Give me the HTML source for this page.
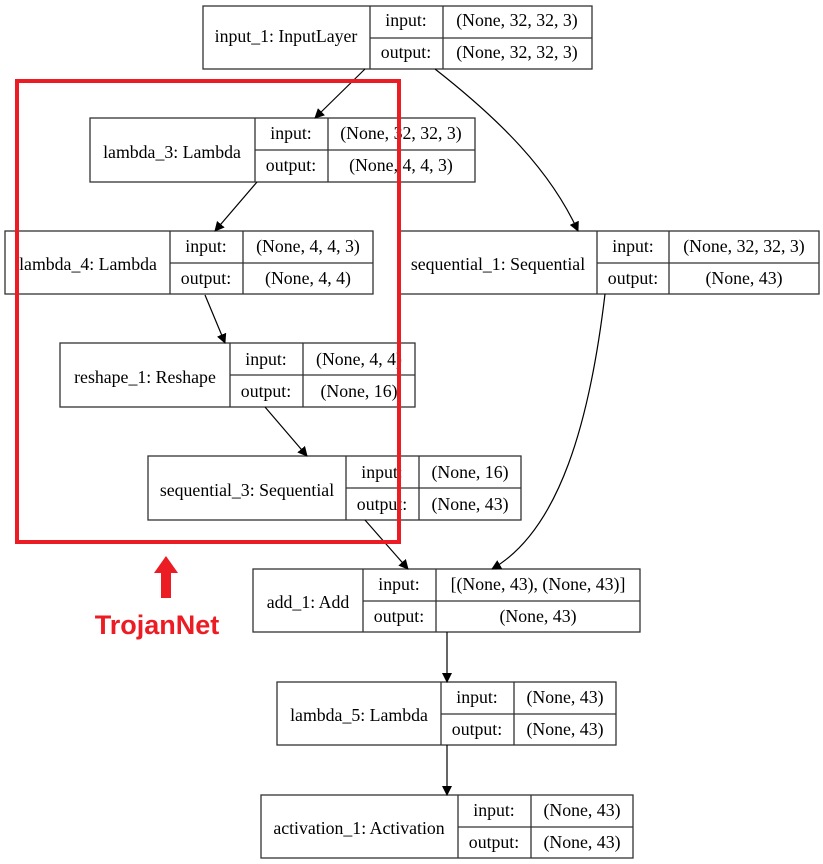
<!DOCTYPE html>
<html><head><meta charset="utf-8"><style>
body{margin:0;background:#fff;}
svg{display:block;}
text{font-family:"Liberation Serif",serif;font-size:17.8px;fill:#000;}
.b{fill:#fff;stroke:#333;stroke-width:1.3;}
.l{stroke:#333;stroke-width:1.3;}
.e{stroke:#000;stroke-width:1.2;fill:none;}
</style></head><body>
<svg width="823" height="864" viewBox="0 0 823 864">
<defs><marker id="a" markerWidth="10" markerHeight="10" refX="9" refY="5" orient="auto" markerUnits="userSpaceOnUse"><path d="M0,0 L10,5 L0,10z" fill="#000"/></marker></defs>

<g id="nodes">
<rect class="b" x="203" y="6" width="389" height="63"/><line class="l" x1="370" y1="6" x2="370" y2="69"/><line class="l" x1="443" y1="6" x2="443" y2="69"/><line class="l" x1="370" y1="38" x2="592" y2="38"/>
<text x="286" y="42" text-anchor="middle">input_1: InputLayer</text><text x="406" y="26" text-anchor="middle">input:</text><text x="406" y="58" text-anchor="middle">output:</text><text x="517" y="26" text-anchor="middle">(None, 32, 32, 3)</text><text x="517" y="58" text-anchor="middle">(None, 32, 32, 3)</text>

<rect class="b" x="90" y="118" width="385" height="64"/><line class="l" x1="255" y1="118" x2="255" y2="182"/><line class="l" x1="328" y1="118" x2="328" y2="182"/><line class="l" x1="255" y1="150" x2="475" y2="150"/>
<text x="172" y="158" text-anchor="middle">lambda_3: Lambda</text><text x="291" y="139" text-anchor="middle">input:</text><text x="291" y="171" text-anchor="middle">output:</text><text x="401" y="139" text-anchor="middle">(None, 32, 32, 3)</text><text x="401" y="171" text-anchor="middle">(None, 4, 4, 3)</text>

<rect class="b" x="5" y="231" width="368" height="63"/><line class="l" x1="170" y1="231" x2="170" y2="294"/><line class="l" x1="243" y1="231" x2="243" y2="294"/><line class="l" x1="170" y1="263" x2="373" y2="263"/>
<text x="88" y="270" text-anchor="middle">lambda_4: Lambda</text><text x="206" y="252" text-anchor="middle">input:</text><text x="206" y="284" text-anchor="middle">output:</text><text x="308" y="252" text-anchor="middle">(None, 4, 4, 3)</text><text x="308" y="284" text-anchor="middle">(None, 4, 4)</text>

<rect class="b" x="400" y="231" width="419" height="63"/><line class="l" x1="597" y1="231" x2="597" y2="294"/><line class="l" x1="669" y1="231" x2="669" y2="294"/><line class="l" x1="597" y1="263" x2="819" y2="263"/>
<text x="498" y="270" text-anchor="middle">sequential_1: Sequential</text><text x="633" y="252" text-anchor="middle">input:</text><text x="633" y="284" text-anchor="middle">output:</text><text x="744" y="252" text-anchor="middle">(None, 32, 32, 3)</text><text x="744" y="284" text-anchor="middle">(None, 43)</text>

<rect class="b" x="60" y="343" width="355" height="64"/><line class="l" x1="230" y1="343" x2="230" y2="407"/><line class="l" x1="303" y1="343" x2="303" y2="407"/><line class="l" x1="230" y1="375" x2="415" y2="375"/>
<text x="145" y="383" text-anchor="middle">reshape_1: Reshape</text><text x="266" y="365" text-anchor="middle">input:</text><text x="266" y="397" text-anchor="middle">output:</text><text x="359" y="365" text-anchor="middle">(None, 4, 4)</text><text x="359" y="397" text-anchor="middle">(None, 16)</text>

<rect class="b" x="148" y="456" width="373" height="64"/><line class="l" x1="346" y1="456" x2="346" y2="520"/><line class="l" x1="419" y1="456" x2="419" y2="520"/><line class="l" x1="346" y1="488" x2="521" y2="488"/>
<text x="247" y="496" text-anchor="middle">sequential_3: Sequential</text><text x="382" y="478" text-anchor="middle">input:</text><text x="382" y="510" text-anchor="middle">output:</text><text x="470" y="478" text-anchor="middle">(None, 16)</text><text x="470" y="510" text-anchor="middle">(None, 43)</text>

<rect class="b" x="253" y="569" width="387" height="63"/><line class="l" x1="363" y1="569" x2="363" y2="632"/><line class="l" x1="436" y1="569" x2="436" y2="632"/><line class="l" x1="363" y1="601" x2="640" y2="601"/>
<text x="308" y="608" text-anchor="middle">add_1: Add</text><text x="399" y="590" text-anchor="middle">input:</text><text x="399" y="622" text-anchor="middle">output:</text><text x="538" y="590" text-anchor="middle">[(None, 43), (None, 43)]</text><text x="538" y="622" text-anchor="middle">(None, 43)</text>

<rect class="b" x="277" y="682" width="339" height="63"/><line class="l" x1="441" y1="682" x2="441" y2="745"/><line class="l" x1="514" y1="682" x2="514" y2="745"/><line class="l" x1="441" y1="714" x2="616" y2="714"/>
<text x="359" y="721" text-anchor="middle">lambda_5: Lambda</text><text x="477" y="703" text-anchor="middle">input:</text><text x="477" y="735" text-anchor="middle">output:</text><text x="565" y="703" text-anchor="middle">(None, 43)</text><text x="565" y="735" text-anchor="middle">(None, 43)</text>

<rect class="b" x="261" y="795" width="372" height="63"/><line class="l" x1="458" y1="795" x2="458" y2="858"/><line class="l" x1="531" y1="795" x2="531" y2="858"/><line class="l" x1="458" y1="827" x2="633" y2="827"/>
<text x="359" y="834" text-anchor="middle">activation_1: Activation</text><text x="494" y="816" text-anchor="middle">input:</text><text x="494" y="848" text-anchor="middle">output:</text><text x="582" y="816" text-anchor="middle">(None, 43)</text><text x="582" y="848" text-anchor="middle">(None, 43)</text>
</g>

<path class="e" marker-end="url(#a)" d="M365,69 L315,118"/>
<path class="e" marker-end="url(#a)" d="M435,69 C500,120 550,170 578,231"/>
<path class="e" marker-end="url(#a)" d="M257,182 L215,231"/>
<path class="e" marker-end="url(#a)" d="M205,295 L225,343"/>
<path class="e" marker-end="url(#a)" d="M265,407 L307,456"/>
<path class="e" marker-end="url(#a)" d="M365,520 L408,569"/>
<path class="e" marker-end="url(#a)" d="M605,294 C590,420 560,530 492,569"/>
<path class="e" marker-end="url(#a)" d="M447,632 L447,682"/>
<path class="e" marker-end="url(#a)" d="M447,745 L447,795"/>

<rect x="17" y="81" width="382" height="461" fill="none" stroke="#ec1c24" stroke-width="4"/>
<path d="M166,556 L178,573 L171,573 L171,598 L161,598 L161,573 L154,573z" fill="#ec1c24"/>
<text x="157" y="634" text-anchor="middle" style="font-family:'Liberation Sans',sans-serif;font-weight:bold;font-size:27px;fill:#ec1c24">TrojanNet</text>
</svg>
</body></html>
